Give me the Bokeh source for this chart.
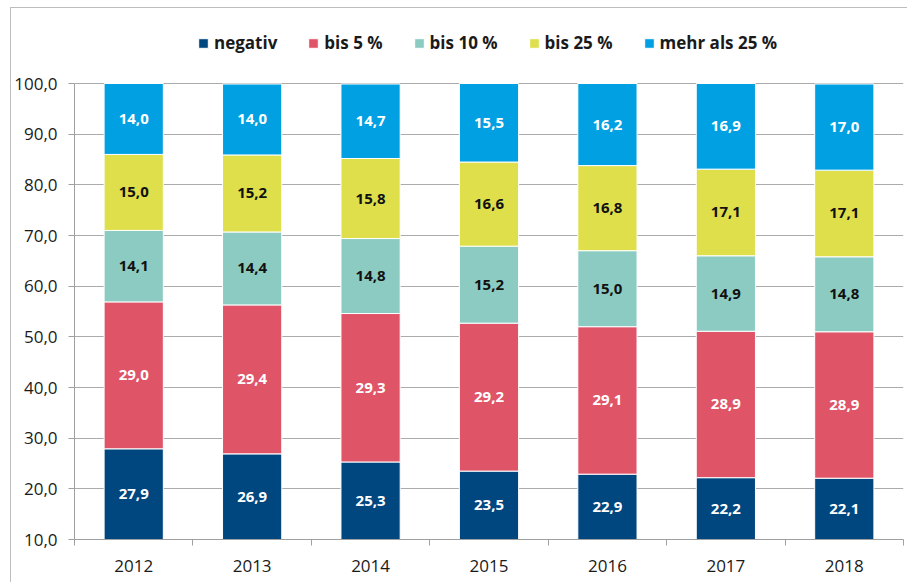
from bokeh.plotting import figure
from bokeh.models import ColumnDataSource, FixedTicker, Legend, LegendItem, Range1d
from bokeh.core.properties import value
from bokeh.embed import file_html
from bokeh.resources import INLINE

years = ["2012", "2013", "2014", "2015", "2016", "2017", "2018"]
series_names = ["negativ", "bis 5 %", "bis 10 %", "bis 25 %", "mehr als 25 %"]
negativ = [27.9, 26.9, 25.3, 23.5, 22.9, 22.2, 22.1]
bis5 = [29.0, 29.4, 29.3, 29.2, 29.1, 28.9, 28.9]
bis10 = [14.1, 14.4, 14.8, 15.2, 15.0, 14.9, 14.8]
bis25 = [15.0, 15.2, 15.8, 16.6, 16.8, 17.1, 17.1]
mehr25 = [14.0, 14.0, 14.7, 15.5, 16.2, 16.9, 17.0]
y_ticks = [10, 20, 30, 40, 50, 60, 70, 80, 90, 100]

colors = ["#00467F", "#E05468", "#8CCBC1", "#DEDF4B", "#00A0E2"]
label_colors = ["white", "white", "#111111", "#111111", "white"]
series = [negativ, bis5, bis10, bis25, mehr25]

Y_MIN, Y_MAX = 10, 100
Y_VIEW_TOP = 112.83   # extra room above 100 for the legend
FONT = "Open Sans"

p = figure(width=897, height=575, output_backend="svg", toolbar_location=None,
           x_range=Range1d(0, len(years)), y_range=Range1d(Y_MIN, Y_VIEW_TOP),
           min_border_left=62, min_border_right=5, min_border_top=10, min_border_bottom=44)
p.styles = {"border-top": "1px solid #bdbdbd", "border-left": "1px solid #bdbdbd",
            "margin-left": "10px", "margin-top": "7px"}
p.outline_line_color = None
p.background_fill_color = "white"

xs = [i + 0.5 for i in range(len(years))]
bottoms = [0.0] * len(years)
renderers = []
for name, vals, col, lcol in zip(series_names, series, colors, label_colors):
    tops = [b + v for b, v in zip(bottoms, vals)]
    src = ColumnDataSource(dict(x=xs, bottom=bottoms, top=tops))
    r = p.vbar(x="x", width=0.5, bottom="bottom", top="top", source=src,
               fill_color=col, line_color="white", line_width=1)
    renderers.append(r)
    ly = [(max(b, Y_MIN) + t) / 2 for b, t in zip(bottoms, tops)]
    labels = [f"{v:.1f}".replace(".", ",") for v in vals]
    lsrc = ColumnDataSource(dict(x=xs, y=ly, t=labels))
    p.text(x="x", y="y", text="t", source=lsrc, text_align="center", text_baseline="middle",
           text_color=lcol, text_font=value(FONT), text_font_style="bold", text_font_size="15px")
    bottoms = tops

# axes
p.xgrid.visible = False
p.ygrid.ticker = FixedTicker(ticks=y_ticks)
p.ygrid.grid_line_color = "#ababab"
p.ygrid.grid_line_width = 1

p.yaxis.ticker = FixedTicker(ticks=y_ticks)
p.yaxis.bounds = (Y_MIN, Y_MAX)
p.yaxis.major_label_overrides = {t: f"{t:.1f}".replace(".", ",") for t in y_ticks}
p.yaxis.major_tick_in = 0
p.yaxis.major_tick_out = 6
p.yaxis.minor_tick_line_color = None
p.yaxis.axis_line_color = "#a0a0a0"
p.yaxis.major_tick_line_color = "#a0a0a0"
p.yaxis.major_label_text_font = FONT
p.yaxis.major_label_text_font_size = "17px"
p.yaxis.major_label_text_color = "#1a1a1a"
p.yaxis.major_label_standoff = 11

p.xaxis.ticker = FixedTicker(ticks=xs, minor_ticks=list(range(len(years) + 1)))
p.xaxis.major_label_overrides = {x: y for x, y in zip(xs, years)}
p.xaxis.major_tick_line_color = None
p.xaxis.major_tick_in = 0
p.xaxis.major_tick_out = 0
p.xaxis.minor_tick_in = 0
p.xaxis.minor_tick_out = 6
p.xaxis.minor_tick_line_color = "#a0a0a0"
p.xaxis.axis_line_color = "#a0a0a0"
p.xaxis.major_label_text_font = FONT
p.xaxis.major_label_text_font_size = "17px"
p.xaxis.major_label_text_color = "#1a1a1a"
p.xaxis.major_label_standoff = 14

legend = Legend(items=[LegendItem(label=n, renderers=[r]) for n, r in zip(series_names, renderers)],
                orientation="horizontal", location=(123, 485), padding=0, margin=0,
                spacing=30, label_standoff=5, glyph_width=12, glyph_height=12,
                label_height=20,
                border_line_color=None, background_fill_alpha=0,
                label_text_font=FONT, label_text_font_style="bold",
                label_text_font_size="17px", label_text_color="#1a1a1a")
p.add_layout(legend, "center")

open("out.html", "w").write(file_html(p, INLINE))
